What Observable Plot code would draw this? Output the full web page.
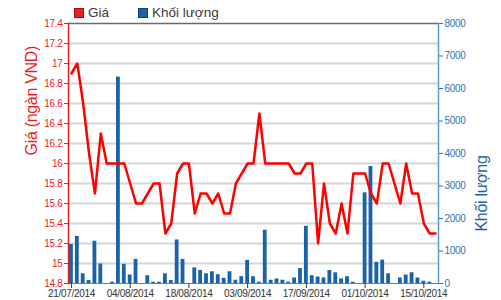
<!DOCTYPE html>
<html><head><meta charset="utf-8">
<script src="https://cdn.jsdelivr.net/npm/d3@7"></script>
<script src="https://cdn.jsdelivr.net/npm/@observablehq/plot@0.6"></script>
<style>
body{margin:0;background:#fff;}
#wrap{position:relative;width:501px;height:300px;font-family:"Liberation Sans",Arial,sans-serif;}
#legend{position:absolute;left:74px;top:4px;font-size:13.5px;color:#3a3a3a;height:18px;line-height:18px;white-space:nowrap;}
#legend .sw{display:inline-block;width:8px;height:8px;border:1px solid rgba(0,0,0,0.35);vertical-align:-1px;margin-right:4px;}
#legend .item{display:inline-block;}
#chart{position:absolute;left:0;top:0;}
</style></head><body>
<div id="wrap"><div id="chart"></div>
<div id="legend"><span class="item"><span class="sw" style="background:#ee1c24"></span>Giá</span><span class="item" style="margin-left:29px"><span class="sw" style="background:#1b63a8"></span>Khối lượng</span></div>
</div>
<script>
const dates = ["21/07/2014","22/07/2014","23/07/2014","24/07/2014","25/07/2014","28/07/2014","29/07/2014","30/07/2014","31/07/2014","01/08/2014",
"04/08/2014","05/08/2014","06/08/2014","07/08/2014","08/08/2014","11/08/2014","12/08/2014","13/08/2014","14/08/2014","15/08/2014",
"18/08/2014","19/08/2014","20/08/2014","21/08/2014","22/08/2014","25/08/2014","26/08/2014","27/08/2014","28/08/2014","29/08/2014",
"03/09/2014","04/09/2014","05/09/2014","08/09/2014","09/09/2014","10/09/2014","11/09/2014","12/09/2014","15/09/2014","16/09/2014",
"17/09/2014","18/09/2014","19/09/2014","22/09/2014","23/09/2014","24/09/2014","25/09/2014","26/09/2014","29/09/2014","30/09/2014",
"01/10/2014","02/10/2014","03/10/2014","06/10/2014","07/10/2014","08/10/2014","09/10/2014","10/10/2014","13/10/2014","14/10/2014",
"15/10/2014","16/10/2014","17/10/2014"];
const price = [16.9,17.0,16.6,16.1,15.7,16.3,16.0,16.0,16.0,16.0,
15.8,15.6,15.6,15.7,15.8,15.8,15.3,15.4,15.9,16.0,
16.0,15.5,15.7,15.7,15.6,15.7,15.5,15.5,15.8,15.9,
16.0,16.0,16.5,16.0,16.0,16.0,16.0,16.0,15.9,15.9,
16.0,16.0,15.2,15.8,15.4,15.3,15.6,15.3,15.9,15.9,
15.9,15.7,15.6,16.0,16.0,15.8,15.6,16.0,15.7,15.7,
15.4,15.3,15.3];
const volume = [1200,1450,300,90,1300,600,0,40,6350,590,
260,740,0,240,40,40,300,90,1340,740,
0,480,400,300,360,270,160,360,100,210,
710,210,40,1640,100,140,100,40,170,460,
1760,240,200,170,400,330,140,210,40,0,
2790,3600,650,720,300,0,170,260,330,170,
70,40,0];
const priceTicks = [14.8,15.0,15.2,15.4,15.6,15.8,16.0,16.2,16.4,16.6,16.8,17.0,17.2,17.4];
const volumeTicks = [0,1000,2000,3000,4000,5000,6000,7000,8000];
const xTickLabels = ["21/07/2014","04/08/2014","18/08/2014","03/09/2014","17/09/2014","01/10/2014","15/10/2014"];
const priceTitle = "Giá (ngàn VND)";
const volumeTitle = "Khối lượng";

const pMin = priceTicks[0], pMax = priceTicks[priceTicks.length-1], vMax = volumeTicks[volumeTicks.length-1];
const vToY = v => pMin + v * (pMax - pMin) / vMax;
const rows = dates.map((d, i) => ({date: d, price: price[i], volume: volume[i]}));
const RED = "#ee1c24", BLUE = "#1b63a8", BLUE_AX = "#2c74b4";

const chart = Plot.plot({
  width: 501, height: 300,
  marginTop: 23, marginBottom: 17, marginLeft: 68, marginRight: 63,
  style: "font-family: 'Liberation Sans', Arial, sans-serif; font-size: 10px; letter-spacing: -0.3px; background: white; overflow: visible;",
  x: {type: "band", domain: dates, paddingInner: 0.35, paddingOuter: 0.175, axis: null},
  y: {domain: [pMin, pMax], axis: null},
  marks: [
    Plot.ruleY(priceTicks.slice(1, -1), {stroke: "#d6d6d6", strokeWidth: 2}),
    Plot.barY(rows, {x: "date", y1: d => pMin, y2: d => vToY(d.volume), fill: BLUE}),
    Plot.lineY(rows, {x: "date", y: "price", stroke: "#ff0000", strokeWidth: 2.5}),
    Plot.ruleY([pMax], {stroke: "#6a6a6a", strokeWidth: 1.5}),
    Plot.ruleY([pMin], {stroke: "#7a7a7a", strokeWidth: 1}),
    Plot.frame({anchor: "left", stroke: RED, strokeWidth: 1.5}),
    Plot.frame({anchor: "right", stroke: "#5a9bd0", strokeWidth: 1.5}),
    Plot.axisY(priceTicks, {anchor: "left", color: RED, tickSize: 4, tickPadding: 2, label: null,
      tickFormat: d => String(+d.toFixed(1))}),
    Plot.axisY(volumeTicks.map(vToY), {anchor: "right", color: BLUE_AX, tickSize: 4, tickPadding: 2, label: null,
      tickFormat: y => String(Math.round((y - pMin) * vMax / (pMax - pMin)))}),
    Plot.axisX(xTickLabels, {anchor: "bottom", color: "#333", tickSize: 5, tickPadding: 1, label: null}),
    Plot.text([priceTitle], {text: d => d, frameAnchor: "left", dx: -37, dy: 2, rotate: -90, fill: RED, fontSize: 16, letterSpacing: "0px"}),
    Plot.text([volumeTitle], {text: d => d, frameAnchor: "right", dx: 43, dy: 2, rotate: -90, fill: BLUE, fontSize: 16})
  ]
});
document.getElementById("chart").appendChild(chart);
</script>
</body></html>
